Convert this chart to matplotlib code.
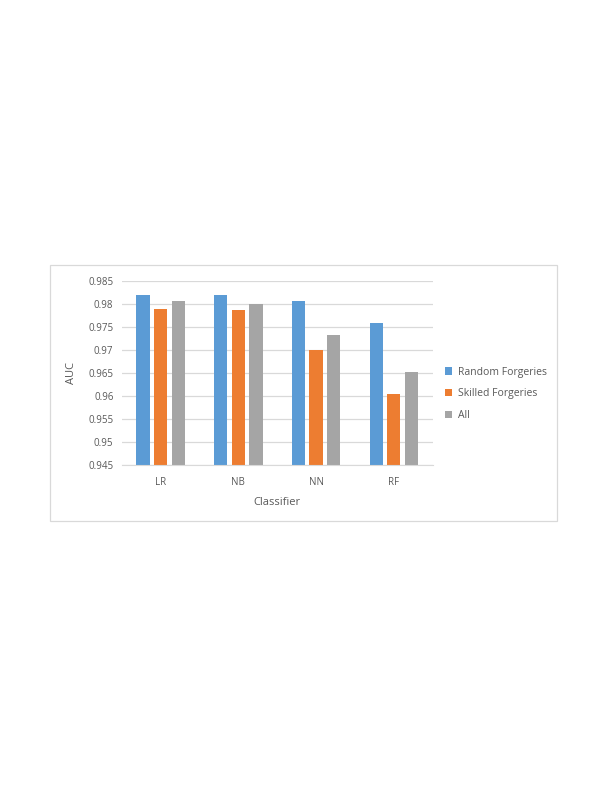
import numpy as np
import matplotlib.pyplot as plt
from matplotlib.patches import Rectangle

# data
classifiers = ['LR', 'NB', 'NN', 'RF']
random_forg = [0.9819, 0.9818, 0.9806, 0.9758]
skilled_forg = [0.9789, 0.9787, 0.9699, 0.9603]
all_forg = [0.9806, 0.9799, 0.9731, 0.9651]
series_names = ['Random Forgeries', 'Skilled Forgeries', 'All']
colors = ['#5B9BD5', '#ED7D31', '#A5A5A5']
yticks = [0.945, 0.95, 0.955, 0.96, 0.965, 0.97, 0.975, 0.98, 0.985]
ytick_labels = ['0.945', '0.95', '0.955', '0.96', '0.965', '0.97', '0.975', '0.98', '0.985']

plt.rcParams['font.family'] = ['Open Sans', 'DejaVu Sans']

fig = plt.figure(figsize=(6.08, 7.87), dpi=100)

# outer chart frame
fig.patches.append(Rectangle((0.0822, 0.338), 0.834, 0.3253, transform=fig.transFigure,
                             fill=False, edgecolor='#d9d9d9', linewidth=0.9))

ax = fig.add_axes([0.2002, 0.4092, 0.5115, 0.2342])

x = np.arange(len(classifiers))
w = 0.171
step = 0.227
for i, (vals, name, c) in enumerate(zip([random_forg, skilled_forg, all_forg], series_names, colors)):
    ax.bar(x + (i - 1) * step, [v - 0.945 for v in vals], w, bottom=0.945,
           color=c, label=name, zorder=3)

ax.set_ylim(0.945, 0.985)
ax.set_xlim(-0.5, 3.5)
ax.set_yticks(yticks)
ax.set_yticklabels(ytick_labels)
ax.set_xticks(x)
ax.set_xticklabels(classifiers)
ax.tick_params(length=0, labelsize=7, colors='#595959', pad=6)
ax.tick_params(axis='x', pad=9)
ax.grid(axis='y', color='#d9d9d9', linewidth=0.9, zorder=0)
for s in ['top', 'right', 'left']:
    ax.spines[s].set_visible(False)
ax.spines['bottom'].set_color('#d9d9d9')
ax.spines['bottom'].set_zorder(4)

ax.set_ylabel('AUC', fontsize=8, color='#595959', labelpad=8)
ax.set_xlabel('Classifier', fontsize=8, color='#595959', labelpad=6)

ax.legend(loc='center left', bbox_to_anchor=(1.01, 0.385), frameon=False, fontsize=7.5,
          labelcolor='#595959', handlelength=0.7, handleheight=0.7, handletextpad=0.5,
          labelspacing=1.05)

fig.savefig('out.png', dpi=100)
